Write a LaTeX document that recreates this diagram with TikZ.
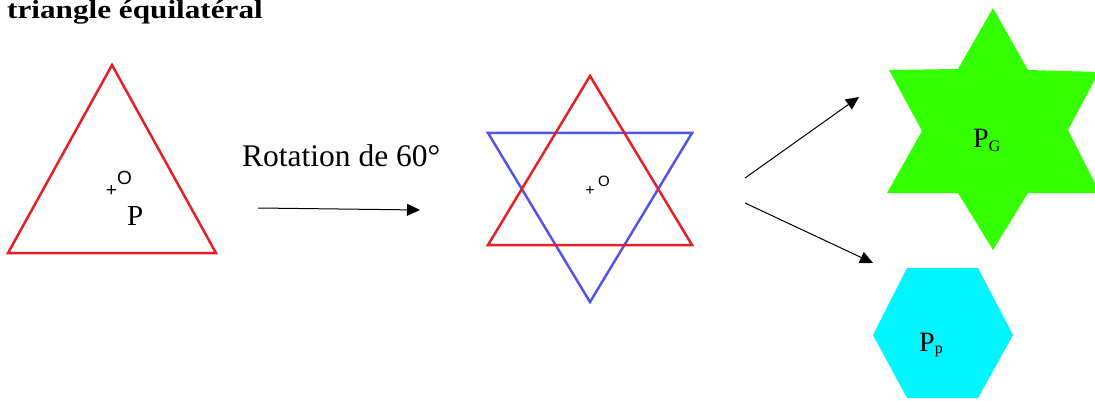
\documentclass[tikz,border=0pt]{standalone}
\usepackage{fontspec}
\setmainfont{Liberation Serif}
\newfontfamily\lsans{Liberation Sans}
\usetikzlibrary{arrows.meta}
\definecolor{tred}{RGB}{232,32,36}
\definecolor{tblue}{RGB}{84,84,232}
\definecolor{sgreen}{RGB}{51,255,0}
\definecolor{hcyan}{RGB}{0,245,255}
\begin{document}
\begin{tikzpicture}[x=1pt,y=-1pt,
  tri/.style={line width=2.5pt,line join=miter},
  arr/.style={line width=1pt,-{Triangle[length=13pt,width=12pt]}},
  lbl/.style={inner sep=0pt,anchor=base west}]
\useasboundingbox (0,0) rectangle (1095,401);
% title
\node[lbl] (title) at (7,19) {\scalebox{1.2}[1]{\fontsize{26}{30}\selectfont\bfseries triangle équilatéral}};
% first triangle
\draw[tri,tred] (112,65) -- (216,253) -- (8,253) -- cycle;
\node[inner sep=0pt] (plus1) at (111.5,191) {\lsans\fontsize{19}{19}\selectfont +};
\node[lbl] (o1) at (117,184) {\lsans\fontsize{19}{19}\selectfont O};
\node[lbl] (p1) at (127,225) {\fontsize{29}{29}\selectfont P};
% rotation arrow
\node[lbl] (rot) at (242,166) {\fontsize{31.5}{32}\selectfont Rotation de 60°};
\coordinate (a1s) at (258,208);
\coordinate (a1e) at (420,210);
\draw[arr] (a1s) -- (a1e);
% star of two triangles
\draw[tri,tblue] (488,133) -- (692,133) -- (590,302) -- cycle;
\draw[tri,tred] (590,76) -- (692,245) -- (488,245) -- cycle;
\node[inner sep=0pt] (plus2) at (590,191) {\lsans\fontsize{16}{16}\selectfont +};
\node[lbl] (o2) at (598,186) {\lsans\fontsize{15}{15}\selectfont O};
% arrows to results
\coordinate (a2s) at (745,178);
\coordinate (a2e) at (859,97);
\coordinate (a3s) at (745,203);
\coordinate (a3e) at (873,263);
\draw[arr] (a2s) -- (a2e);
\draw[arr] (a3s) -- (a3e);
% green star
\fill[sgreen] (993,8) -- (1028,70) -- (1099,72) -- (1068,130)
  -- (1100,193) -- (1028,193) -- (993,250) -- (958,193) -- (887,193)
  -- (922,131) -- (889,70) -- (958,69) -- cycle;
\node[lbl] (pg) at (973,148) {\fontsize{28}{28}\selectfont P\raisebox{-3pt}{\fontsize{16}{16}\selectfont G}};
% cyan hexagon
\fill[hcyan] (907,268) -- (978,268) -- (1013,335) -- (978,398) -- (907,398) -- (873,335) -- cycle;
\node[lbl] (pp) at (919,351) {\fontsize{28}{28}\selectfont P\raisebox{-2pt}{\fontsize{16}{16}\selectfont p}};
\end{tikzpicture}
\end{document}
